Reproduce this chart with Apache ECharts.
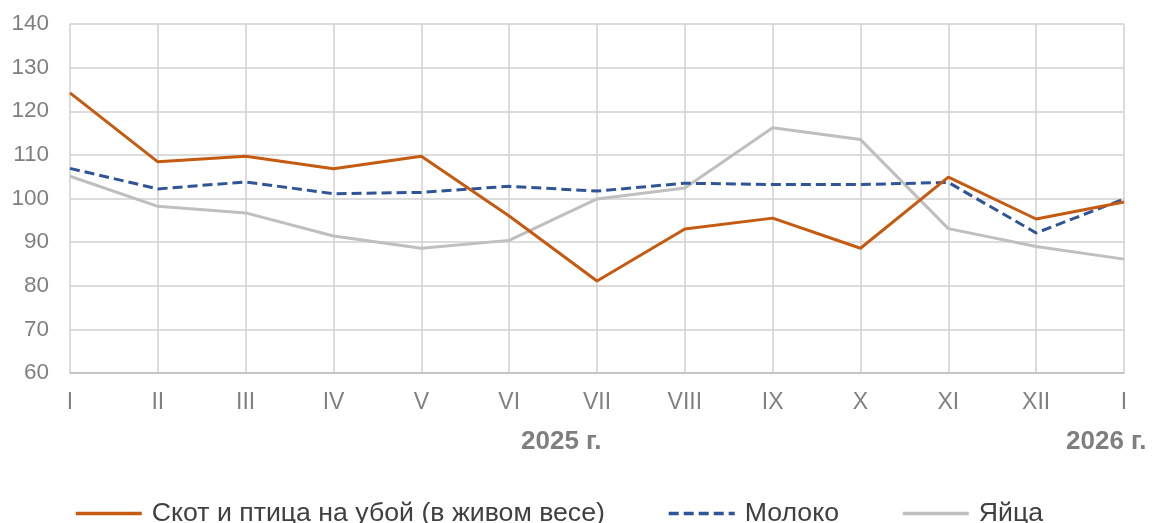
<!DOCTYPE html>
<html>
<head>
<meta charset="utf-8">
<script src="https://cdn.jsdelivr.net/npm/echarts@6/dist/echarts.min.js"></script>
<style>
  html, body { margin: 0; padding: 0; background: #fff; }
  #chart { width: 1153px; height: 523px; }
</style>
</head>
<body>
<div id="chart"></div>
<script>
  // месяцы
  var months = ['I', 'II', 'III', 'IV', 'V', 'VI', 'VII', 'VIII', 'IX', 'X', 'XI', 'XII', 'I'];
  var yearLabels = ['2025 г.', '2026 г.'];

  var cattle = [124.2, 108.4, 109.7, 106.8, 109.7, 96.0, 81.1, 93.0, 95.5, 88.6, 104.9, 95.3, 99.2];
  var milk = [106.9, 102.2, 103.8, 101.1, 101.4, 102.8, 101.7, 103.5, 103.2, 103.2, 103.7, 92.1, 99.9];
  var eggs = [105.1, 98.2, 96.7, 91.4, 88.6, 90.4, 99.9, 102.4, 116.2, 113.5, 93.1, 89.0, 86.1];

  var names = ['Скот и птица на убой (в живом весе)', 'Молоко', 'Яйца'];
  var colors = ['#C55A11', '#2F5597', '#BFBFBF'];

  var labelFont = 'Arial, "Liberation Sans", sans-serif';

  var myChart = echarts.init(document.getElementById('chart'));
  myChart.setOption({
    animation: false,
    color: colors,
    grid: { left: 70, right: 29, top: 24, bottom: 150 },
    legend: {
      top: 495,
      left: 69,
      itemWidth: 66,
      itemHeight: 4,
      itemGap: 62,
      itemStyle: { opacity: 0 },
      lineStyle: { width: 3.5 },
      textStyle: { fontSize: 26.7, color: '#404040', fontFamily: labelFont, padding: [0, 0, 0, 5] },
      data: names
    },
    graphic: [
      {
        type: 'text', left: 521, top: 429,
        style: { text: yearLabels[0], fontSize: 26, fontWeight: 'bold', fill: '#7f7f7f', fontFamily: labelFont }
      },
      {
        type: 'text', left: 1066, top: 429,
        style: { text: yearLabels[1], fontSize: 26, fontWeight: 'bold', fill: '#7f7f7f', fontFamily: labelFont }
      }
    ],
    xAxis: {
      type: 'category',
      boundaryGap: false,
      data: months,
      axisLine: { lineStyle: { color: '#bfbfbf', width: 1.5 } },
      axisTick: { show: false },
      axisLabel: { fontSize: 23, color: '#808080', fontFamily: labelFont, margin: 18 },
      splitLine: { show: true, lineStyle: { color: '#d0d0d0', width: 1.5 } }
    },
    yAxis: {
      type: 'value',
      min: 60,
      max: 140,
      interval: 10,
      axisLine: { show: false },
      axisTick: { show: false },
      axisLabel: { fontSize: 22.5, color: '#808080', fontFamily: labelFont, margin: 21 },
      splitLine: { lineStyle: { color: '#d0d0d0', width: 1.5 } }
    },
    series: [
      {
        name: names[0], type: 'line', symbol: 'none', data: cattle,
        lineStyle: { width: 3, color: colors[0] }, z: 4
      },
      {
        name: names[1], type: 'line', symbol: 'none', data: milk,
        lineStyle: { width: 3, color: colors[1], type: [10, 5] }, z: 3
      },
      {
        name: names[2], type: 'line', symbol: 'none', data: eggs,
        lineStyle: { width: 3, color: colors[2] }, z: 2
      }
    ]
  });
</script>
</body>
</html>
